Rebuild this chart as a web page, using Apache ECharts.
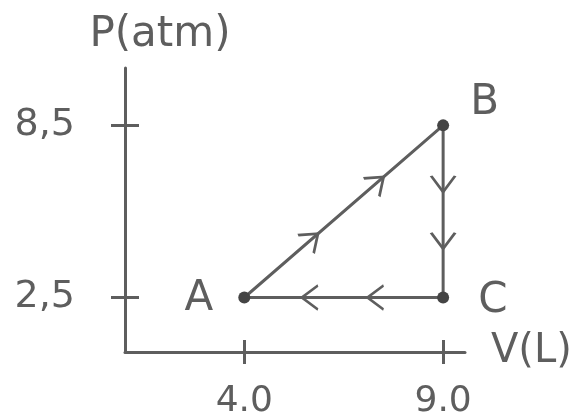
<!DOCTYPE html>
<html>
<head>
<meta charset="utf-8">
<script src="https://cdn.jsdelivr.net/npm/echarts@6/dist/echarts.min.js"></script>
<style>
  html, body { margin: 0; padding: 0; background: #fff; }
  #main { width: 588px; height: 420px; }
</style>
</head>
<body>
<div id="main"></div>
<script>
// cycle A -> B -> C -> A
var pointNames = ['A', 'B', 'C'];
var volumes = [4.0, 9.0, 9.0];
var pressures = [2.5, 8.5, 2.5];

var xTicks = [4.0, 9.0];
var xTickLabels = ['4.0', '9.0'];
var yTicks = [2.5, 8.5];
var yTickLabels = ['2,5', '8,5'];

// where the arrow heads sit along each leg (fraction from start of leg)
var arrowFractions = [0.34, 0.67];

var ink = '#5e5e5e';
var font = 'DejaVu Sans';

var chart = echarts.init(document.getElementById('main'));

var cycle = [];
for (var i = 0; i <= pointNames.length; i++) {
    var k = i % pointNames.length;
    cycle.push([volumes[k], pressures[k]]);
}

function tickLabel(ticks, labels) {
    return function (v) {
        for (var i = 0; i < ticks.length; i++) {
            if (Math.abs(ticks[i] - v) < 1e-6) return labels[i];
        }
        return '';
    };
}

var labelPos = { A: ['left', [-20, 2]], B: ['right', [16, -22]], C: ['right', [24, 4]] };

var option = {
    animation: false,
    grid: { left: 125, right: 123, top: 68, bottom: 68 },
    xAxis: [{
        type: 'value', min: 1, max: 9.55,
        name: 'V(L)', nameLocation: 'end', nameGap: 26,
        nameTextStyle: { color: ink, fontSize: 40, fontFamily: font, verticalAlign: 'middle' },
        axisLine: { lineStyle: { color: ink, width: 3 } },
        axisTick: { customValues: xTicks, length: 12, lineStyle: { color: ink, width: 3 } },
        axisLabel: { customValues: xTicks, formatter: tickLabel(xTicks, xTickLabels), margin: 32,
            color: ink, fontSize: 36, fontFamily: font },
        splitLine: { show: false }
    }, {
        type: 'value', min: 1, max: 9.55, position: 'bottom',
        axisLine: { show: false },
        axisTick: { customValues: xTicks, inside: true, length: 12, lineStyle: { color: ink, width: 3 } },
        axisLabel: { show: false },
        splitLine: { show: false }
    }],
    yAxis: [{
        type: 'value', min: 0.6, max: 10.5,
        name: 'P(atm)', nameLocation: 'end', nameGap: 12,
        nameTextStyle: { color: ink, fontSize: 42, fontFamily: font, align: 'center', padding: [0, 0, 0, 70] },
        axisLine: { lineStyle: { color: ink, width: 3 } },
        axisTick: { customValues: yTicks, length: 14, lineStyle: { color: ink, width: 3 } },
        axisLabel: { customValues: yTicks, formatter: tickLabel(yTicks, yTickLabels), margin: 50,
            color: ink, fontSize: 38, fontFamily: font },
        splitLine: { show: false }
    }, {
        type: 'value', min: 0.6, max: 10.5, position: 'left',
        axisLine: { show: false },
        axisTick: { customValues: yTicks, inside: true, length: 14, lineStyle: { color: ink, width: 3 } },
        axisLabel: { show: false },
        splitLine: { show: false }
    }],
    series: [{
        type: 'line',
        data: cycle,
        symbol: 'none',
        lineStyle: { color: ink, width: 3 },
        z: 2
    }, {
        type: 'scatter',
        data: pointNames.map(function (n, i) {
            return {
                value: [volumes[i], pressures[i]],
                label: { show: true, formatter: n, position: labelPos[n][0], offset: labelPos[n][1],
                    color: ink, fontSize: 42, fontFamily: font }
            };
        }),
        symbolSize: 12,
        itemStyle: { color: '#444', opacity: 1 },
        z: 4
    }]
};
chart.setOption(option);

// chevron arrows along each leg, rotated along the leg in screen space
var arrows = [];
for (var j = 0; j < pointNames.length; j++) {
    var p0 = cycle[j], p1 = cycle[j + 1];
    var s0 = chart.convertToPixel({ gridIndex: 0 }, p0);
    var s1 = chart.convertToPixel({ gridIndex: 0 }, p1);
    var ang = Math.atan2(-(s1[1] - s0[1]), s1[0] - s0[0]) * 180 / Math.PI;
    arrowFractions.forEach(function (f) {
        arrows.push({
            value: [p0[0] + (p1[0] - p0[0]) * f, p0[1] + (p1[1] - p0[1]) * f],
            symbolRotate: ang
        });
    });
}

chart.setOption({
    series: [{}, {}, {
        type: 'scatter',
        data: arrows,
        symbol: 'path://M0,0L10,6L0,12',
        symbolSize: [16, 24],
        itemStyle: { color: 'none', borderColor: ink, borderWidth: 2.5, opacity: 1 },
        z: 3
    }]
});
</script>
</body>
</html>
